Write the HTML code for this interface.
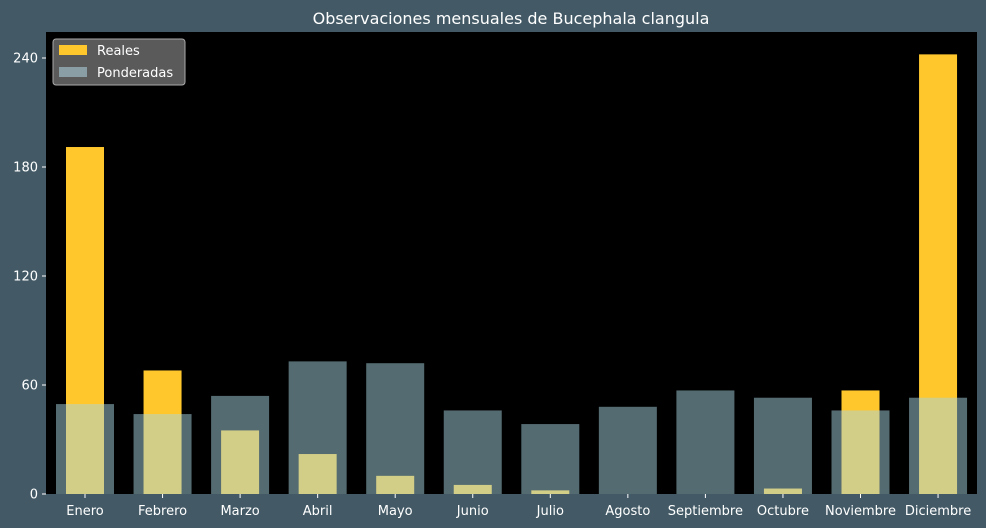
<!DOCTYPE html>
<html><head><meta charset="utf-8"><style>
body{margin:0;background:#435a66;font-family:"DejaVu Sans","Liberation Sans",sans-serif;}
svg{display:block}
text{font-family:"DejaVu Sans","Liberation Sans",sans-serif;}
</style></head><body>
<svg id="chart" width="986" height="528" xmlns="http://www.w3.org/2000/svg">
<rect width="986" height="528" fill="#435a66"/>
<text x="511" y="24" text-anchor="middle" fill="#ffffff" font-size="16">Observaciones mensuales de Bucephala clangula</text>
<rect x="46" y="32" width="931" height="462" fill="#000000"/>
<g id="bars"></g>
<g id="axes"></g>
<g>
<rect x="53" y="39" width="132" height="46" rx="3" fill="#5a5a5a" stroke="#aaaaaa" stroke-width="1"/>
<rect x="59" y="45" width="28" height="10" fill="#ffc72c"/>
<text x="97" y="55" fill="#ffffff" font-size="13">Reales</text>
<rect x="59" y="67" width="28" height="10" fill="#8a9ea5"/>
<text x="97" y="77" fill="#ffffff" font-size="13">Ponderadas</text>
</g>
</svg>
<script>
const categories=["Enero","Febrero","Marzo","Abril","Mayo","Junio","Julio","Agosto","Septiembre","Octubre","Noviembre","Diciembre"];
const reales=[191,68,35,22,10,5,2,0,0,3,57,242];
const ponderadas=[49.5,44,54,73,72,46,38.5,48,57,53,46,53];
const yTicks=[0,60,120,180,240];
const NS="http://www.w3.org/2000/svg";
const bars=document.getElementById('bars');
const axes=document.getElementById('axes');
const x0=85,step=77.55,bottom=494,pxPerUnit=109/60;
function xScale(i){return x0+i*step;}
function yScale(v){return bottom-v*pxPerUnit;}
function mk(tag,attrs,parent){const e=document.createElementNS(NS,tag);for(const k in attrs)e.setAttribute(k,attrs[k]);parent.appendChild(e);return e;}
categories.forEach((c,i)=>{
  const cx=xScale(i);
  const r=mk('rect',{x:cx-19,y:yScale(reales[i]),width:38,height:bottom-yScale(reales[i]),fill:'#ffc72c'},bars);
  
  
});
categories.forEach((c,i)=>{
  const cx=xScale(i);
  const r=mk('rect',{x:cx-29,y:yScale(ponderadas[i]),width:58,height:bottom-yScale(ponderadas[i]),fill:'rgba(168,214,226,0.5)'},bars);
  
  
  const t=mk('text',{x:cx,y:515,'text-anchor':'middle',fill:'#ffffff','font-size':13},axes);
  t.textContent=c;
  
  
  const tk=mk('line',{x1:cx,x2:cx,y1:494,y2:498,stroke:'#ffffff'},axes);
  
  
});
yTicks.forEach(v=>{
  const y=yScale(v);
  const tk=mk('line',{x1:42,x2:46,y1:y,y2:y,stroke:'#ffffff'},axes);
  
  
  const t=mk('text',{x:38,y:y+4.5,'text-anchor':'end',fill:'#ffffff','font-size':13},axes);
  t.textContent=v;
  
  
});
</script>
</body></html>
